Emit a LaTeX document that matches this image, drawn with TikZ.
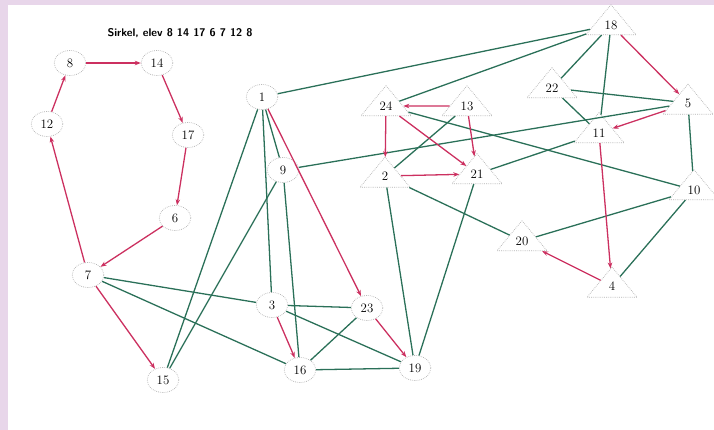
\documentclass[tikz,border=0pt]{standalone}
\usepackage{tikz}
\usetikzlibrary{arrows.meta,shapes.geometric}

\definecolor{framepurple}{RGB}{232,214,234}
\definecolor{edgered}{RGB}{204,48,96}
\definecolor{edgegreen}{RGB}{42,112,88}

\begin{document}
\begin{tikzpicture}[
    x=0.03cm, y=-0.03cm,
    oval/.style={ellipse, draw=gray!60, densely dotted, line width=0.6pt, minimum width=0.95cm, minimum height=0.75cm, inner sep=1pt, font=\fontsize{11}{12}\selectfont},
    tri/.style={isosceles triangle, isosceles triangle apex angle=110, shape border rotate=90, isosceles triangle stretches, minimum width=1.5cm, minimum height=0.9cm, draw=gray!60, densely dotted, line width=0.6pt, inner sep=0pt, font=\fontsize{11}{12}\selectfont},
    green/.style={edgegreen, line width=1.1pt},
    red/.style={edgered, line width=1.1pt, -{Stealth[length=1.8mm]}}
]
% Frame
\useasboundingbox (0,0) rectangle (714,430);
\fill[white] (0,0) rectangle (714,430);
\fill[framepurple] (0,0) rectangle (8,430);
\fill[framepurple] (0,0) rectangle (714,5);

% Title
\node[font=\sffamily\bfseries\fontsize{9.5}{11}\selectfont] (title) at (180,33) {Sirkel, elev 8 14 17 6 7 12 8};

% Oval nodes
\node[oval] (n8) at (70,63) {8};
\node[oval] (n14) at (157,63) {14};
\node[oval] (n12) at (47,124) {12};
\node[oval] (n17) at (188,135) {17};
\node[oval] (n6) at (175,218) {6};
\node[oval] (n7) at (88,275) {7};
\node[oval] (n15) at (163,380) {15};
\node[oval] (n1) at (262,97) {1};
\node[oval] (n9) at (283,170) {9};
\node[oval] (n3) at (272,305) {3};
\node[oval] (n23) at (367,308) {23};
\node[oval] (n16) at (300,370) {16};
\node[oval] (n19) at (415,368) {19};

% Triangle nodes
\node[tri] (n24) at (386,106) {24};
\node[tri] (n13) at (467,106) {13};
\node[tri] (n2) at (385,176) {2};
\node[tri] (n21) at (477,174) {21};
\node[tri] (n20) at (522,241) {20};
\node[tri] (n4) at (612,286) {4};
\node[tri] (n18) at (611,25) {18};
\node[tri] (n22) at (552,88) {22};
\node[tri] (n11) at (599,133) {11};
\node[tri] (n5) at (688,103) {5};
\node[tri] (n10) at (694,190) {10};

% Green edges
\draw[green] (n1) -- (n18);
\draw[green] (n24) -- (n18);
\draw[green] (n1) -- (n15);
\draw[green] (n9) -- (n15);
\draw[green] (n1) -- (n3);
\draw[green] (n1) -- (n9);
\draw[green] (n9) -- (n16);
\draw[green] (n9) -- (n5);
\draw[green] (n24) -- (n10);
\draw[green] (n2) -- (n13);
\draw[green] (n2) -- (n20);
\draw[green] (n2) -- (n19);
\draw[green] (n21) -- (n19);
\draw[green] (n21) -- (n11);
\draw[green] (n18) -- (n22);
\draw[green] (n18) -- (n11);
\draw[green] (n22) -- (n5);
\draw[green] (n22) -- (n11);
\draw[green] (n5) -- (n10);
\draw[green] (n10) -- (n20);
\draw[green] (n10) -- (n4);
\draw[green] (n7) -- (n3);
\draw[green] (n7) -- (n16);
\draw[green] (n3) -- (n23);
\draw[green] (n3) -- (n19);
\draw[green] (n23) -- (n16);
\draw[green] (n16) -- (n19);

% Red directed edges (circle)
\draw[red] (n8) -- (n14);
\draw[red] (n14) -- (n17);
\draw[red] (n17) -- (n6);
\draw[red] (n6) -- (n7);
\draw[red] (n7) -- (n12);
\draw[red] (n12) -- (n8);

% Red directed edges (other)
\draw[red] (n1) -- (n23);
\draw[red] (n23) -- (n19);
\draw[red] (n3) -- (n16);
\draw[red] (n7) -- (n15);
\draw[red] (n13) -- (n24);
\draw[red] (n24) -- (n2);
\draw[red] (n24) -- (n21);
\draw[red] (n2) -- (n21);
\draw[red] (n13) -- (n21);
\draw[red] (n18) -- (n5);
\draw[red] (n5) -- (n11);
\draw[red] (n11) -- (n4);
\draw[red] (n4) -- (n20);
\end{tikzpicture}
\end{document}
